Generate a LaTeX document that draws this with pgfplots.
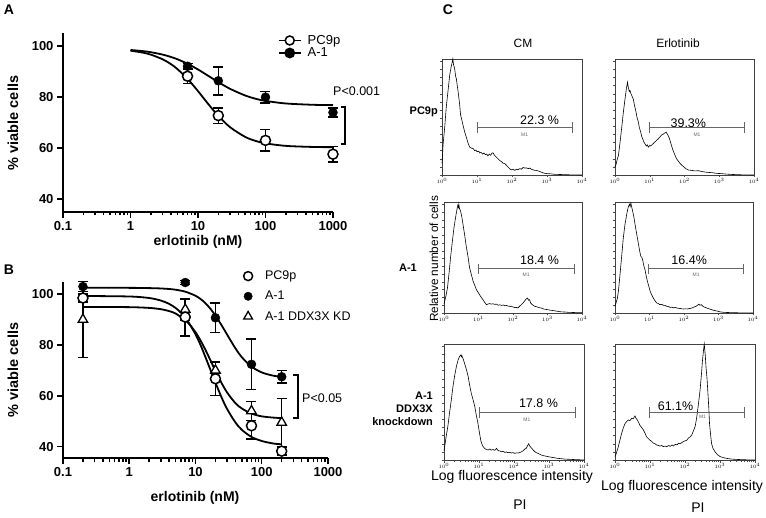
\documentclass[border=0pt]{standalone}
\usepackage{fontspec}
\setmainfont{Liberation Sans}
\usepackage{pgfplots}
\pgfplotsset{compat=1.18}
\pgfplotsset{
  linelegend/.style={legend image code/.code={\draw[mark repeat=2,mark phase=2,##1] plot coordinates {(0pt,0pt)(11pt,0pt)(22pt,0pt)}; \path[draw=none, fill=none] (0pt,-1pt) rectangle (27pt,1pt);}},
  marklegend/.style={legend image code/.code={\draw[##1] plot coordinates {(5pt,0pt)}; \path[draw=none, fill=none] (0pt,-1pt) rectangle (20pt,1pt);}},
  curvexx/.style={black, line width=1.8pt, no marks, smooth},
  ebarxx/.style={error bars/y dir=both, error bars/y explicit,
    error bars/error bar style={line width=1.5pt, black},
    error bars/error mark options={rotate=90, line width=1.5pt, mark size=5pt, black}},
  opcxx/.style={only marks, mark=*, mark size=5pt, mark options={fill=white, draw=black, line width=1.5pt}, ebarxx},
  ficxx/.style={only marks, mark=*, mark size=4.5pt, mark options={fill=black, draw=black}, ebarxx},
  trixx/.style={only marks, mark=triangle*, mark size=5.5pt, mark options={fill=white, draw=black, line width=1.3pt}, ebarxx},
  histoxx/.style={
    scale only axis, xmin=0, xmax=4, ymin=0, ymax=1,
    axis line style={draw=black!75, line width=0.6pt},
    xtick={0,1,2,3,4}, xticklabels={$10^{0}$,$10^{1}$,$10^{2}$,$10^{3}$,$10^{4}$},
    minor xtick={0.301,0.477,0.602,0.699,0.778,0.845,0.903,0.954,1.301,1.477,1.602,1.699,1.778,1.845,1.903,1.954,2.301,2.477,2.602,2.699,2.778,2.845,2.903,2.954,3.301,3.477,3.602,3.699,3.778,3.845,3.903,3.954},
    ytick={0,0.07,0.14,0.21,0.28,0.35,0.42,0.49,0.56,0.63,0.70,0.77,0.84,0.91,0.98}, yticklabels={},
    xtick pos=left, ytick pos=left,
    tick align=outside, major tick length=2.5pt, minor tick length=1.5pt,
    tick style={black!70, line width=0.4pt},
    xticklabel style={font=\fontsize{5.5}{5.5}\selectfont, inner sep=1pt},
    clip=false,
  },
  hlinexx/.style={black, line width=0.6pt, no marks},
  gatexx/.style={black!60, line width=0.8pt, no marks},
}
\begin{document}
\begin{tikzpicture}
\path[use as bounding box] (0pt,0pt) rectangle (766pt,517pt);

% ---------------- Panel A ----------------
\begin{axis}[scale only axis, xmode=log, log basis x=10,
    axis x line*=bottom, axis y line*=left,
    xmin=0.1, xmax=1000,
    xtick={0.1,1,10,100,1000}, xticklabels={0.1,1,10,100,1000},
    minor xtick={0.2,0.3,0.4,0.5,0.6,0.7,0.8,0.9,2,3,4,5,6,7,8,9,20,30,40,50,60,70,80,90,200,300,400,500,600,700,800,900},
    ytick={40,60,80,100},
    axis line style={line width=1.8pt, black},
    tick style={line width=1.5pt, black},
    major tick length=6pt, minor tick length=3.5pt,
    tick align=outside,
    ticklabel style={font=\bfseries\fontsize{13}{13}\selectfont},
    yticklabel style={/pgf/number format/assume math mode=true},
    clip=false,
  at={(63pt,305pt)}, anchor=south west, width=270pt, height=179pt, ymin=35, ymax=105,
  legend style={at={(0.795,1.0)}, anchor=north west, draw=none, fill=none, inner sep=0pt,
    font=\fontsize{13}{13}\selectfont, row sep=-2pt},
  legend cell align=left, linelegend]
\addlegendimage{black, line width=1.8pt, mark=*, mark size=4.5pt, mark options={fill=white, line width=1.5pt}}
\addlegendentry{PC9p}
\addlegendimage{black, line width=1.8pt, mark=*, mark size=4.5pt, mark options={fill=black}}
\addlegendentry{A-1}
\addplot[curvexx, forget plot] coordinates {(1,98.09)(1.5,97.36)(2,96.54)(3,94.7)(4,92.77)(5,90.8)(7,87.08)(10,82.28)(14,77.42)(20,72.59)(30,68.12)(50,64.37)(70,62.86)(100,61.84)(200,60.86)(500,60.44)(1000,60.35)};
\addplot[curvexx, forget plot] coordinates {(1,98.36)(1.5,97.94)(2,97.49)(3,96.55)(4,95.61)(5,94.69)(7,92.97)(10,90.73)(14,88.35)(20,85.79)(30,83.14)(50,80.56)(70,79.35)(100,78.44)(200,77.44)(500,76.93)(1000,76.79)};
\addplot[opcxx, forget plot] table[x=x, y=y, y error=e] {
x y e
7 88.1 2.8
20 72.7 3.0
100 63.0 4.2
1000 57.6 3.1
};
\addplot[ficxx, forget plot] table[x=x, y=y, y error=e] {
x y e
7 92.0 1.0
20 86.3 5.5
100 79.9 2.3
1000 73.9 1.8
};
\addplot[black, line width=1.5pt, no marks, forget plot] coordinates {(1314,76.1)(1507,76.1)(1507,61.6)(1314,61.6)};
\end{axis}

% ---------------- Panel B ----------------
\begin{axis}[scale only axis, xmode=log, log basis x=10,
    axis x line*=bottom, axis y line*=left,
    xmin=0.1, xmax=1000,
    xtick={0.1,1,10,100,1000}, xticklabels={0.1,1,10,100,1000},
    minor xtick={0.2,0.3,0.4,0.5,0.6,0.7,0.8,0.9,2,3,4,5,6,7,8,9,20,30,40,50,60,70,80,90,200,300,400,500,600,700,800,900},
    ytick={40,60,80,100},
    axis line style={line width=1.8pt, black},
    tick style={line width=1.5pt, black},
    major tick length=6pt, minor tick length=3.5pt,
    tick align=outside,
    ticklabel style={font=\bfseries\fontsize{13}{13}\selectfont},
    yticklabel style={/pgf/number format/assume math mode=true},
    clip=false,
  at={(63pt,59pt)}, anchor=south west, width=265pt, height=176.5pt, ymin=35.5, ymax=105,
  legend style={at={(0.679,1.072)}, anchor=north west, draw=none, fill=none, inner sep=0pt,
    font=\fontsize{12.5}{13}\selectfont, row sep=6pt},
  legend cell align=left, marklegend]
\addlegendimage{only marks, mark=*, mark size=4.5pt, mark options={fill=white, draw=black, line width=1.5pt}}
\addlegendentry{PC9p}
\addlegendimage{only marks, mark=*, mark size=4.2pt, mark options={fill=black}}
\addlegendentry{A-1}
\addlegendimage{only marks, mark=triangle*, mark size=5pt, mark options={fill=white, draw=black, line width=1.3pt}}
\addlegendentry{A-1 DDX3X KD}
\addplot[curvexx, forget plot] coordinates {(0.2,99.3)(1,99.1)(2,98.5)(3,97.5)(4,96.2)(5,94.6)(6,92.8)(7,90.8)(8,88.6)(10,84.2)(12,79.8)(14,75.5)(17,69.9)(20,65.2)(25,59.1)(30,54.8)(40,49.5)(50,46.6)(70,43.8)(100,42.2)(150,41.2)(200,40.9)};
\addplot[curvexx, forget plot] coordinates {(0.2,102.5)(1,102.5)(2,102.4)(3,102.26)(4,102.05)(5,101.77)(7,101.0)(10,99.4)(12,98.05)(14,96.55)(17,94.1)(20,91.6)(25,87.6)(30,84.1)(40,78.7)(50,75.2)(70,71.5)(100,69.2)(150,67.9)(200,67.5)};
\addplot[curvexx, forget plot] coordinates {(0.2,95)(1,94.9)(2,94.6)(3,94.1)(4,93.35)(5,92.4)(7,89.8)(8,88.3)(10,85.06)(12,81.6)(14,78.3)(17,73.7)(20,69.8)(25,64.8)(30,61.3)(40,57.1)(50,55.0)(70,53.0)(100,51.9)(150,51.4)(200,51.2)};
\addplot[trixx, forget plot] table[x=x, y=y, y error=e] {
x y e
0.2 90.0 15.0
7 94.0 4.2
20 70.0 3.5
70 54.0 3.8
200 49.5 9.5
};
\addplot[opcxx, forget plot] table[x=x, y=y, y error=e] {
x y e
0.2 98.5 1.5
7 91.0 7.4
20 66.7 6.5
70 48.2 5.2
200 38.2 1.5
};
\addplot[ficxx, forget plot] table[x=x, y=y, y error=e] {
x y e
0.2 103.0 2.0
7 104.6 0.8
20 90.7 5.8
70 72.4 9.9
200 67.5 2.5
};
\addplot[black, line width=1.5pt, no marks, forget plot] coordinates {(296,68.2)(352,68.2)(352,51.2)(296,51.2)};
\end{axis}

% ---------------- Panel C histograms ----------------
\begin{axis}[histoxx, at={(442pt,342pt)}, anchor=south west, width=140pt, height=116pt]
\addplot[hlinexx] coordinates {(0,0.10)(0.02,0.2)(0.03,0.26)(0.08,0.42)(0.12,0.58)(0.17,0.72)(0.22,0.86)(0.26,0.93)(0.29,0.97)(0.31,1.0)(0.33,0.95)(0.36,0.92)(0.39,0.85)(0.41,0.83)(0.44,0.76)(0.46,0.72)(0.5,0.62)(0.53,0.52)(0.57,0.47)(0.6,0.43)(0.65,0.37)(0.7,0.32)(0.75,0.27)(0.79,0.24)(0.85,0.23)(0.9,0.225)(0.93,0.21)(0.97,0.215)(1.0,0.2)(1.05,0.205)(1.08,0.19)(1.12,0.195)(1.16,0.18)(1.2,0.19)(1.24,0.175)(1.28,0.18)(1.31,0.165)(1.35,0.18)(1.39,0.17)(1.43,0.19)(1.46,0.19)(1.5,0.17)(1.55,0.155)(1.6,0.14)(1.65,0.125)(1.7,0.115)(1.75,0.10)(1.79,0.10)(1.85,0.08)(1.9,0.065)(1.95,0.05)(1.98,0.045)(2.03,0.05)(2.08,0.04)(2.13,0.05)(2.17,0.045)(2.22,0.055)(2.27,0.05)(2.32,0.065)(2.36,0.06)(2.42,0.06)(2.47,0.055)(2.51,0.06)(2.55,0.05)(2.6,0.045)(2.65,0.04)(2.7,0.04)(2.74,0.035)(2.8,0.03)(2.87,0.02)(2.93,0.015)(3.0,0.012)(3.1,0.01)(3.22,0.006)(3.4,0.004)(3.7,0.001)(4,0)};
\addplot[gatexx] coordinates {(1.01,0.365)(1.01,0.455)};
\addplot[gatexx] coordinates {(1.01,0.41)(3.73,0.41)};
\addplot[gatexx] coordinates {(3.73,0.365)(3.73,0.455)};
\node[font=\fontsize{12.5}{12.5}\selectfont] at (axis cs:2.79,0.474) {22.3 \%};
\node[font=\fontsize{5}{5}\selectfont, text=black!60] at (axis cs:2.36,0.345) {M1};
\end{axis}
\begin{axis}[histoxx, at={(615pt,342pt)}, anchor=south west, width=139pt, height=116pt]
\addplot[hlinexx] coordinates {(0,0.07)(0.03,0.09)(0.06,0.13)(0.1,0.17)(0.14,0.27)(0.19,0.40)(0.24,0.54)(0.29,0.66)(0.33,0.75)(0.36,0.80)(0.38,0.76)(0.41,0.72)(0.43,0.73)(0.46,0.70)(0.49,0.68)(0.53,0.65)(0.56,0.6)(0.6,0.55)(0.63,0.5)(0.67,0.46)(0.7,0.41)(0.74,0.37)(0.77,0.33)(0.8,0.31)(0.83,0.285)(0.86,0.27)(0.9,0.25)(0.93,0.26)(0.96,0.24)(1.0,0.255)(1.03,0.25)(1.06,0.26)(1.1,0.27)(1.13,0.28)(1.17,0.29)(1.2,0.30)(1.24,0.31)(1.27,0.32)(1.3,0.33)(1.34,0.345)(1.38,0.35)(1.42,0.36)(1.45,0.365)(1.47,0.37)(1.5,0.355)(1.53,0.34)(1.56,0.32)(1.6,0.28)(1.63,0.25)(1.66,0.22)(1.7,0.19)(1.74,0.16)(1.77,0.14)(1.82,0.12)(1.87,0.1)(1.92,0.085)(1.98,0.07)(2.04,0.055)(2.11,0.043)(2.2,0.04)(2.3,0.035)(2.4,0.037)(2.5,0.03)(2.6,0.025)(2.7,0.022)(2.8,0.02)(2.93,0.014)(3.05,0.012)(3.2,0.008)(3.35,0.005)(3.5,0.003)(3.7,0.001)(4,0)};
\addplot[gatexx] coordinates {(0.99,0.365)(0.99,0.455)};
\addplot[gatexx] coordinates {(0.99,0.41)(3.71,0.41)};
\addplot[gatexx] coordinates {(3.71,0.365)(3.71,0.455)};
\node[font=\fontsize{12.5}{12.5}\selectfont] at (axis cs:2.11,0.446) {39.3\%};
\node[font=\fontsize{5}{5}\selectfont, text=black!60] at (axis cs:2.36,0.345) {M1};
\end{axis}
\begin{axis}[histoxx, at={(444pt,204pt)}, anchor=south west, width=138pt, height=111pt]
\addplot[hlinexx] coordinates {(0,0.08)(0.02,0.105)(0.06,0.16)(0.1,0.225)(0.15,0.37)(0.19,0.5)(0.24,0.64)(0.29,0.77)(0.34,0.87)(0.38,0.94)(0.4,0.97)(0.42,0.95)(0.43,0.98)(0.45,0.94)(0.48,0.92)(0.52,0.86)(0.55,0.8)(0.6,0.7)(0.65,0.59)(0.7,0.5)(0.74,0.41)(0.79,0.35)(0.84,0.29)(0.89,0.25)(0.94,0.21)(0.98,0.19)(1.03,0.165)(1.08,0.14)(1.13,0.12)(1.18,0.095)(1.23,0.075)(1.27,0.08)(1.32,0.085)(1.37,0.08)(1.42,0.083)(1.47,0.078)(1.52,0.08)(1.57,0.07)(1.62,0.074)(1.67,0.068)(1.72,0.072)(1.76,0.065)(1.81,0.068)(1.86,0.062)(1.91,0.06)(1.95,0.058)(2.0,0.055)(2.05,0.048)(2.1,0.05)(2.14,0.045)(2.19,0.06)(2.24,0.075)(2.29,0.09)(2.34,0.11)(2.38,0.125)(2.42,0.135)(2.45,0.115)(2.48,0.12)(2.51,0.09)(2.56,0.075)(2.63,0.06)(2.7,0.055)(2.76,0.048)(2.82,0.045)(2.9,0.035)(3.0,0.03)(3.11,0.024)(3.2,0.02)(3.3,0.015)(3.4,0.01)(3.5,0.009)(3.6,0.006)(3.7,0.005)(3.88,0.003)(4,0.002)};
\addplot[gatexx] coordinates {(1.0,0.355)(1.0,0.445)};
\addplot[gatexx] coordinates {(1.0,0.40)(3.77,0.40)};
\addplot[gatexx] coordinates {(3.77,0.355)(3.77,0.445)};
\node[font=\fontsize{12.5}{12.5}\selectfont] at (axis cs:2.77,0.48) {18.4 \%};
\node[font=\fontsize{5}{5}\selectfont, text=black!60] at (axis cs:2.38,0.34) {M1};
\end{axis}
\begin{axis}[histoxx, at={(615pt,204pt)}, anchor=south west, width=138pt, height=111pt]
\addplot[hlinexx] coordinates {(0,0.06)(0.03,0.09)(0.07,0.135)(0.1,0.2)(0.145,0.345)(0.19,0.5)(0.24,0.675)(0.29,0.8)(0.34,0.89)(0.38,0.95)(0.42,0.98)(0.44,0.96)(0.46,0.99)(0.48,0.96)(0.51,0.92)(0.55,0.86)(0.58,0.8)(0.63,0.71)(0.68,0.62)(0.72,0.55)(0.75,0.51)(0.78,0.5)(0.8,0.48)(0.84,0.42)(0.87,0.39)(0.9,0.34)(0.94,0.285)(0.98,0.24)(1.02,0.195)(1.07,0.16)(1.11,0.135)(1.16,0.11)(1.21,0.09)(1.26,0.085)(1.3,0.075)(1.35,0.078)(1.4,0.07)(1.45,0.068)(1.5,0.06)(1.55,0.058)(1.6,0.05)(1.65,0.053)(1.7,0.047)(1.75,0.05)(1.79,0.045)(1.85,0.042)(1.9,0.04)(1.95,0.037)(1.99,0.036)(2.05,0.038)(2.1,0.036)(2.15,0.04)(2.2,0.042)(2.25,0.048)(2.3,0.055)(2.35,0.06)(2.4,0.072)(2.43,0.08)(2.46,0.07)(2.5,0.075)(2.55,0.06)(2.6,0.052)(2.66,0.045)(2.72,0.038)(2.8,0.03)(2.86,0.024)(2.95,0.018)(3.05,0.01)(3.15,0.006)(3.3,0.004)(3.5,0.002)(3.8,0.001)(4,0)};
\addplot[gatexx] coordinates {(0.97,0.355)(0.97,0.445)};
\addplot[gatexx] coordinates {(0.97,0.40)(3.71,0.40)};
\addplot[gatexx] coordinates {(3.71,0.355)(3.71,0.445)};
\node[font=\fontsize{12.5}{12.5}\selectfont] at (axis cs:2.15,0.48) {16.4\%};
\node[font=\fontsize{5}{5}\selectfont, text=black!60] at (axis cs:2.35,0.345) {M1};
\end{axis}
\begin{axis}[histoxx, at={(444pt,57pt)}, anchor=south west, width=140pt, height=116pt]
\addplot[hlinexx] coordinates {(0,0.08)(0.02,0.115)(0.06,0.2)(0.11,0.29)(0.16,0.41)(0.21,0.52)(0.25,0.62)(0.3,0.72)(0.35,0.8)(0.4,0.86)(0.44,0.89)(0.48,0.905)(0.5,0.89)(0.51,0.9)(0.55,0.87)(0.59,0.83)(0.64,0.78)(0.69,0.72)(0.73,0.65)(0.78,0.575)(0.83,0.52)(0.88,0.46)(0.92,0.39)(0.97,0.316)(1.01,0.24)(1.05,0.17)(1.08,0.14)(1.11,0.12)(1.16,0.1)(1.21,0.09)(1.26,0.086)(1.31,0.095)(1.35,0.085)(1.4,0.09)(1.45,0.083)(1.5,0.1)(1.55,0.08)(1.6,0.078)(1.64,0.07)(1.69,0.075)(1.74,0.065)(1.78,0.07)(1.83,0.063)(1.88,0.066)(1.93,0.06)(1.97,0.064)(2.02,0.057)(2.07,0.062)(2.12,0.06)(2.17,0.065)(2.21,0.07)(2.26,0.08)(2.31,0.095)(2.35,0.1)(2.39,0.125)(2.42,0.14)(2.45,0.12)(2.48,0.11)(2.51,0.1)(2.55,0.085)(2.6,0.07)(2.64,0.063)(2.7,0.055)(2.78,0.043)(2.85,0.037)(2.97,0.029)(3.1,0.022)(3.26,0.014)(3.45,0.008)(3.64,0.005)(3.85,0.002)(4,0.001)};
\addplot[gatexx] coordinates {(1.02,0.365)(1.02,0.455)};
\addplot[gatexx] coordinates {(1.02,0.41)(3.75,0.41)};
\addplot[gatexx] coordinates {(3.75,0.365)(3.75,0.455)};
\node[font=\fontsize{12.5}{12.5}\selectfont] at (axis cs:2.7,0.49) {17.8 \%};
\node[font=\fontsize{5}{5}\selectfont, text=black!60] at (axis cs:2.37,0.345) {M1};
\end{axis}
\begin{axis}[histoxx, at={(615pt,57pt)}, anchor=south west, width=140pt, height=116pt]
\addplot[hlinexx] coordinates {(0,0.03)(0.03,0.05)(0.06,0.08)(0.095,0.115)(0.14,0.17)(0.19,0.23)(0.24,0.28)(0.29,0.316)(0.33,0.33)(0.38,0.345)(0.43,0.34)(0.48,0.36)(0.52,0.355)(0.55,0.37)(0.57,0.38)(0.6,0.36)(0.64,0.345)(0.68,0.32)(0.71,0.3)(0.76,0.28)(0.81,0.26)(0.86,0.23)(0.9,0.2)(0.95,0.185)(1.0,0.17)(1.05,0.16)(1.1,0.145)(1.14,0.14)(1.19,0.13)(1.24,0.125)(1.29,0.12)(1.34,0.125)(1.38,0.115)(1.43,0.12)(1.48,0.115)(1.53,0.125)(1.58,0.118)(1.63,0.13)(1.67,0.12)(1.72,0.135)(1.77,0.13)(1.82,0.145)(1.86,0.14)(1.91,0.15)(1.96,0.16)(2.0,0.165)(2.05,0.17)(2.1,0.19)(2.15,0.2)(2.19,0.215)(2.24,0.25)(2.29,0.29)(2.32,0.34)(2.35,0.40)(2.39,0.5)(2.43,0.6)(2.47,0.74)(2.5,0.86)(2.53,0.95)(2.55,1.0)(2.58,0.9)(2.6,0.8)(2.63,0.7)(2.65,0.6)(2.68,0.45)(2.7,0.316)(2.73,0.22)(2.76,0.14)(2.8,0.1)(2.86,0.07)(2.93,0.045)(3.0,0.03)(3.1,0.02)(3.19,0.014)(3.33,0.008)(3.48,0.005)(3.7,0.002)(3.86,0.001)(4,0)};
\addplot[gatexx] coordinates {(0.98,0.365)(0.98,0.455)};
\addplot[gatexx] coordinates {(0.98,0.41)(3.71,0.41)};
\addplot[gatexx] coordinates {(3.71,0.365)(3.71,0.455)};
\node[font=\fontsize{12.5}{12.5}\selectfont] at (axis cs:1.73,0.46) {61.1\%};
\node[font=\fontsize{5}{5}\selectfont, text=black!60] at (axis cs:2.5,0.37) {M1};
\end{axis}

% ---------------- Text ----------------
\node[font=\bfseries\fontsize{14}{14}\selectfont] at (9pt,507pt) {A};
\node[font=\bfseries\fontsize{14}{14}\selectfont] at (9pt,247pt) {B};
\node[font=\bfseries\fontsize{14}{14}\selectfont] at (448pt,507pt) {C};
\node[font=\bfseries\fontsize{14.5}{14.5}\selectfont, rotate=90] at (13pt,394pt) {\% viable cells};
\node[font=\bfseries\fontsize{14.5}{14.5}\selectfont, rotate=90] at (13pt,147pt) {\% viable cells};
\node[font=\bfseries\fontsize{14}{14}\selectfont] at (198pt,275pt) {erlotinib (nM)};
\node[font=\bfseries\fontsize{14}{14}\selectfont] at (195pt,19pt) {erlotinib (nM)};
\node[font=\fontsize{12.5}{12.5}\selectfont, anchor=west, inner sep=0pt] at (333pt,426pt) {P<0.001};
\node[font=\fontsize{12.5}{12.5}\selectfont, anchor=west, inner sep=0pt] at (302pt,119pt) {P<0.05};
\node[font=\fontsize{12}{12}\selectfont] at (523pt,474pt) {CM};
\node[font=\fontsize{12}{12}\selectfont] at (678pt,474pt) {Erlotinib};
\node[font=\bfseries\fontsize{11}{11}\selectfont, anchor=east, inner sep=0pt] at (438pt,405pt) {PC9p};
\node[font=\bfseries\fontsize{11}{11}\selectfont, anchor=east, inner sep=0pt] at (417pt,249pt) {A-1};
\node[font=\bfseries\fontsize{11}{13}\selectfont, anchor=east, align=right, inner sep=0pt] at (433pt,108pt) {A-1\\DDX3X\\knockdown};
\node[font=\fontsize{11.8}{11.8}\selectfont, rotate=90] at (434pt,258pt) {Relative number of cells};
\node[font=\fontsize{14}{14}\selectfont] at (512pt,40pt) {Log fluorescence intensity};
\node[font=\fontsize{14}{14}\selectfont] at (682pt,30pt) {Log fluorescence intensity};
\node[font=\fontsize{14}{14}\selectfont] at (520pt,12pt) {PI};
\node[font=\fontsize{14}{14}\selectfont, inner sep=1pt] at (698pt,9pt) {PI};
\end{tikzpicture}
\end{document}
